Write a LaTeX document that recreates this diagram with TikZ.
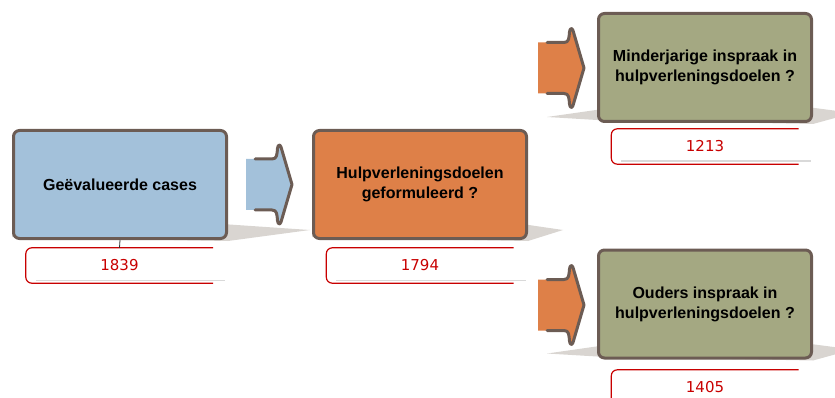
\documentclass[tikz,border=0pt]{standalone}
\usepackage{fontspec}
\setmainfont{Liberation Sans}
\newfontfamily\numfont{DejaVu Sans}

\definecolor{edgebrown}{HTML}{6C5C54}
\definecolor{stageblue}{HTML}{A3C1DA}
\definecolor{stageorange}{HTML}{DE8048}
\definecolor{stageolive}{HTML}{A4A882}
\definecolor{countred}{HTML}{C80000}
\definecolor{shadowgrey}{HTML}{D9D5D1}

% block arrow: #1 = fill colour (shaft starts at the scope origin, centred on y=0)
\newcommand\flowarrow[1]{%
  \fill[#1] (0,-25.5) -- (26,-25.5) .. controls (31,-25.5) and (31,-30) .. (31.5,-36)
    .. controls (32,-40) and (34,-40.5) .. (35,-37.5) -- (46,0) -- (35,37.5)
    .. controls (34,40.5) and (32,40) .. (31.5,36) .. controls (31,30) and (31,25.5) .. (26,25.5)
    -- (0,25.5) -- cycle;
  \draw[arrowedge] (9,-25.5) -- (26,-25.5) .. controls (31,-25.5) and (31,-30) .. (31.5,-36)
    .. controls (32,-40) and (34,-40.5) .. (35,-37.5) -- (46,0) -- (35,37.5)
    .. controls (34,40.5) and (32,40) .. (31.5,36) .. controls (31,30) and (31,25.5) .. (26,25.5)
    -- (9,25.5);
}

% perspective shadow lying behind the lower edge of a box: #1 box name, #2 left reach, #3 right reach
\newcommand\boxshadow[3]{%
  \fill[shadowgrey]
    ([xshift=-#2pt,yshift=6pt]#1.south west) -- ([xshift=6pt,yshift=14pt]#1.south west)
    -- ([xshift=-6pt,yshift=16pt]#1.south east) -- ([xshift=#3pt,yshift=10pt]#1.south east)
    -- ([yshift=-1pt]#1.south east) -- ([yshift=3pt]#1.south west) -- cycle;
}

\begin{document}
\begin{tikzpicture}[x=1pt,y=-1pt,
  stagebox/.style={draw=edgebrown, line width=3pt, rounded corners=6pt,
    minimum width=213pt, minimum height=108pt, inner sep=0pt, align=center,
    font=\bfseries\fontsize{16}{20}\selectfont, text=black},
  countbox/.style={minimum width=187pt, minimum height=35pt, inner sep=0pt,
    text=countred, font=\numfont\fontsize{15}{18}\selectfont},
  countframe/.style={draw=countred, line width=1.2pt, rounded corners=6pt},
  countshade/.style={draw=black!15, line width=1.4pt},
  arrowedge/.style={draw=edgebrown, line width=3pt, line join=round, line cap=round},
  link/.style={draw=black!80, line width=0.8pt}
]
\useasboundingbox (0,0) rectangle (835,398);

% box outlines reserved first, so shadows and arrows can be laid underneath
\path
  node[stagebox, draw=none] (cases)  at (120,184.5) {}
  node[stagebox, draw=none] (goals)  at (420,184.5) {}
  node[stagebox, draw=none] (minor)  at (705,67.5)  {}
  node[stagebox, draw=none] (parent) at (705,304)   {};

\boxshadow{cases}{0}{82}
\boxshadow{goals}{0}{35}
\boxshadow{minor}{50}{40}
\boxshadow{parent}{50}{40}

\begin{scope}[shift={(246,184.5)}]\flowarrow{stageblue}\end{scope}
\begin{scope}[shift={(538,68)}]\flowarrow{stageorange}\end{scope}
\begin{scope}[shift={(538,305)}]\flowarrow{stageorange}\end{scope}

% stage boxes
\node[stagebox, fill=stageblue]   (cases)  at (120,184.5) {Geëvalueerde cases};
\node[stagebox, fill=stageorange] (goals)  at (420,184.5) {Hulpverleningsdoelen\\geformuleerd ?};
\node[stagebox, fill=stageolive]  (minor)  at (705,67.5)  {Minderjarige inspraak in\\hulpverleningsdoelen ?};
\node[stagebox, fill=stageolive]  (parent) at (705,304)   {Ouders inspraak in\\hulpverleningsdoelen ?};

% case counts
\node[countbox] (ncases)  at (119.5,265.5) {1839};
\node[countbox] (ngoals)  at (420,265.5)   {1794};
\node[countbox] (nminor)  at (705,146.5)   {1213};
\node[countbox] (nparent) at (705,387.5)   {1405};

\foreach \n in {ncases,ngoals,nminor,nparent}{
  \draw[countshade] ([xshift=10pt,yshift=3pt]\n.south west) -- ([xshift=12pt,yshift=3pt]\n.south east);
  \draw[countframe] (\n.north east) -- (\n.north west) -- (\n.south west) -- (\n.south east);
}

\draw[link] (cases.south) -- (ncases.north);
\end{tikzpicture}
\end{document}
